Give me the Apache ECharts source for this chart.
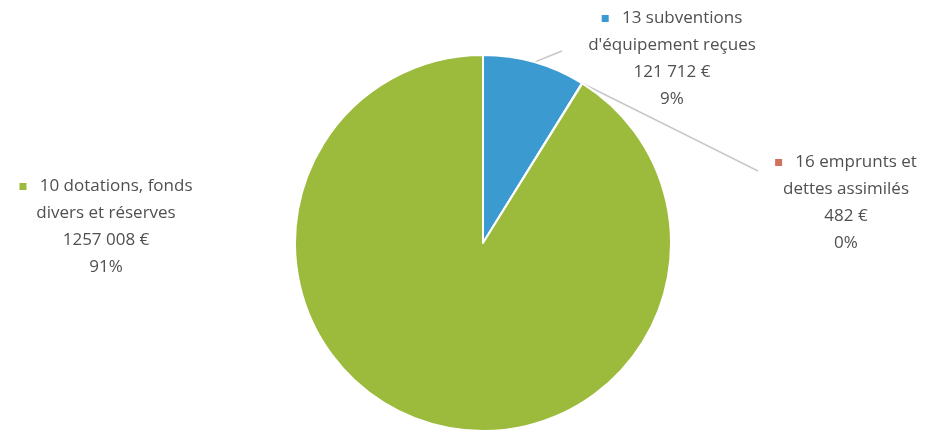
<!DOCTYPE html>
<html>
<head>
<meta charset="utf-8">
<script src="https://cdn.jsdelivr.net/npm/echarts@6/dist/echarts.min.js"></script>
<style>html,body{margin:0;padding:0;background:#fff}#c{width:933px;height:432px}</style>
</head>
<body>
<div id="c"></div>
<script>
const categories = ["13 subventions\nd'équipement reçues", "16 emprunts et\ndettes assimilés", "10 dotations, fonds\ndivers et réserves"];
const values = [121712, 482, 1257008];
const valueLabels = ["121 712 €", "482 €", "1257 008 €"];
const colors = ['#3b9ad0', '#d0705f', '#9cbb3c'];

const labelPos = [
  {x: 672, y: 59, line: [[552, 55], [562, 51]]},
  {x: 846, y: 203, line: [[700, 142], [758, 171]]},
  {x: 106, y: 227, line: null}
];

const chart = echarts.init(document.getElementById('c'), null, {renderer: 'canvas'});
chart.setOption({
  backgroundColor: '#ffffff',
  animation: false,
  series: [{
    type: 'pie',
    center: [483, 243],
    radius: 188,
    startAngle: 90,
    clockwise: true,
    avoidLabelOverlap: false,
    itemStyle: {borderColor: '#ffffff', borderWidth: 2},
    label: {
      show: true,
      position: 'outside',
      fontFamily: 'Open Sans',
      fontSize: 17,
      lineHeight: 27,
      color: '#505050',
      align: 'center',
      formatter: function (p) {
        return '{m' + p.dataIndex + '|}   ' + p.name + '\n' + valueLabels[p.dataIndex] + '\n' + Math.round(p.percent) + '%';
      },
      rich: {
        m0: {width: 7, height: 7, backgroundColor: colors[0]},
        m1: {width: 7, height: 7, backgroundColor: colors[1]},
        m2: {width: 7, height: 7, backgroundColor: colors[2]}
      }
    },
    labelLine: {show: true, lineStyle: {color: '#c8c8c8', width: 1.5}},
    labelLayout: function (params) {
      const lp = labelPos[params.dataIndex];
      const out = {x: lp.x, y: lp.y, align: 'center', verticalAlign: 'middle'};
      if (lp.line && params.labelLinePoints) {
        out.labelLinePoints = [params.labelLinePoints[0], lp.line[0], lp.line[1]];
      }
      return out;
    },
    data: categories.map(function (c, i) {
      const d = {name: c, value: values[i], itemStyle: {color: colors[i]}};
      if (!labelPos[i].line) d.labelLine = {show: false};
      return d;
    })
  }]
});
</script>
</body>
</html>
